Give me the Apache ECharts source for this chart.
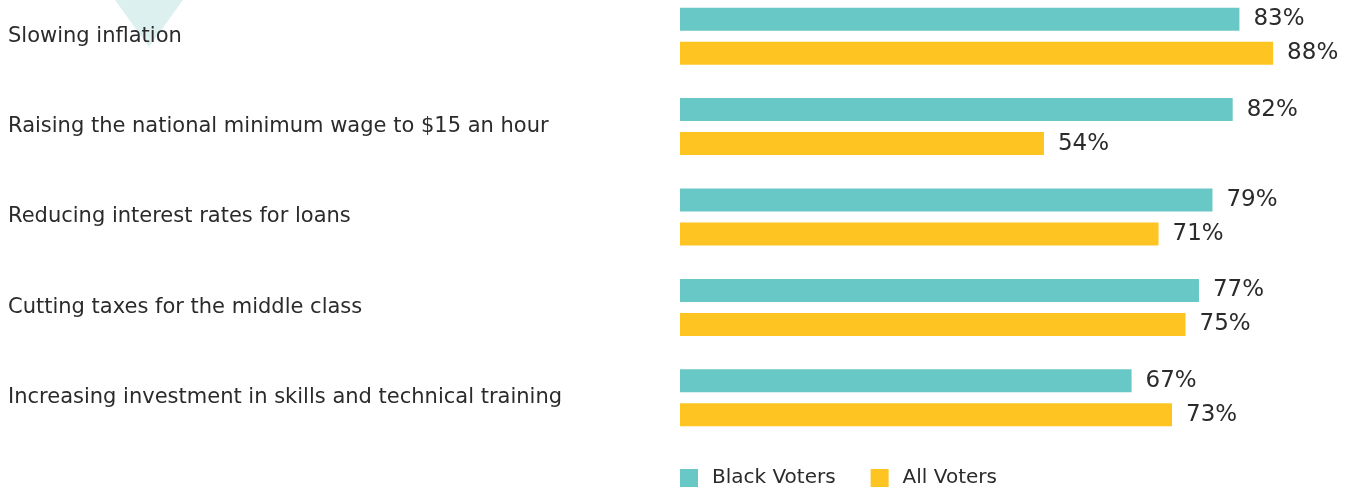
<!DOCTYPE html>
<html><head><meta charset="utf-8">
<script src="https://cdn.jsdelivr.net/npm/echarts@6/dist/echarts.min.js"></script>
<style>html,body{margin:0;padding:0;background:#fff}#c{width:1354px;height:489px}</style>
</head><body><div id="c"></div>
<script>
const categories = [
  "Slowing inflation",
  "Raising the national minimum wage to $15 an hour",
  "Reducing interest rates for loans",
  "Cutting taxes for the middle class",
  "Increasing investment in skills and technical training"
];
const blackVoters = [83, 82, 79, 77, 67];
const allVoters = [88, 54, 71, 75, 73];
const seriesNames = ["Black Voters", "All Voters"];

const chart = echarts.init(document.getElementById('c'));
const font = '"DejaVu Sans", sans-serif';
const lbl = {show: true, position: 'right', distance: 14, formatter: '{c}%', fontSize: 23, color: '#2b2b2b', fontFamily: font};
chart.setOption({
  animation: false,
  graphic: [{type: 'polygon', z: -1, shape: {points: [[115, 0], [183, 0], [149, 47]]}, style: {fill: '#dcf0ef'}}],
  legend: {
    left: 680, top: 468, padding: 0, itemWidth: 18, itemHeight: 18, itemGap: 35,
    icon: 'rect',
    textStyle: {fontSize: 20, color: '#2b2b2b', fontFamily: font, padding: [0, 0, 0, 9]},
    data: seriesNames
  },
  grid: {left: 680, right: 0, top: -9, height: 452, containLabel: false, outerBoundsMode: 'none'},
  xAxis: {type: 'value', min: 0, max: 100, show: false},
  yAxis: {
    type: 'category', data: categories, inverse: true,
    axisLine: {show: false}, axisTick: {show: false},
    axisLabel: {align: 'left', margin: 672, fontSize: 21, color: '#2b2b2b', fontFamily: font, verticalAlign: 'middle', padding: [6, 0, 0, 0]}
  },
  series: [
    {name: seriesNames[0], type: 'bar', data: blackVoters, barWidth: 23, barGap: '48%', itemStyle: {color: '#67c8c5'}, label: lbl},
    {name: seriesNames[1], type: 'bar', data: allVoters, barWidth: 23, itemStyle: {color: '#fdc422'}, label: lbl}
  ]
});
</script></body></html>
